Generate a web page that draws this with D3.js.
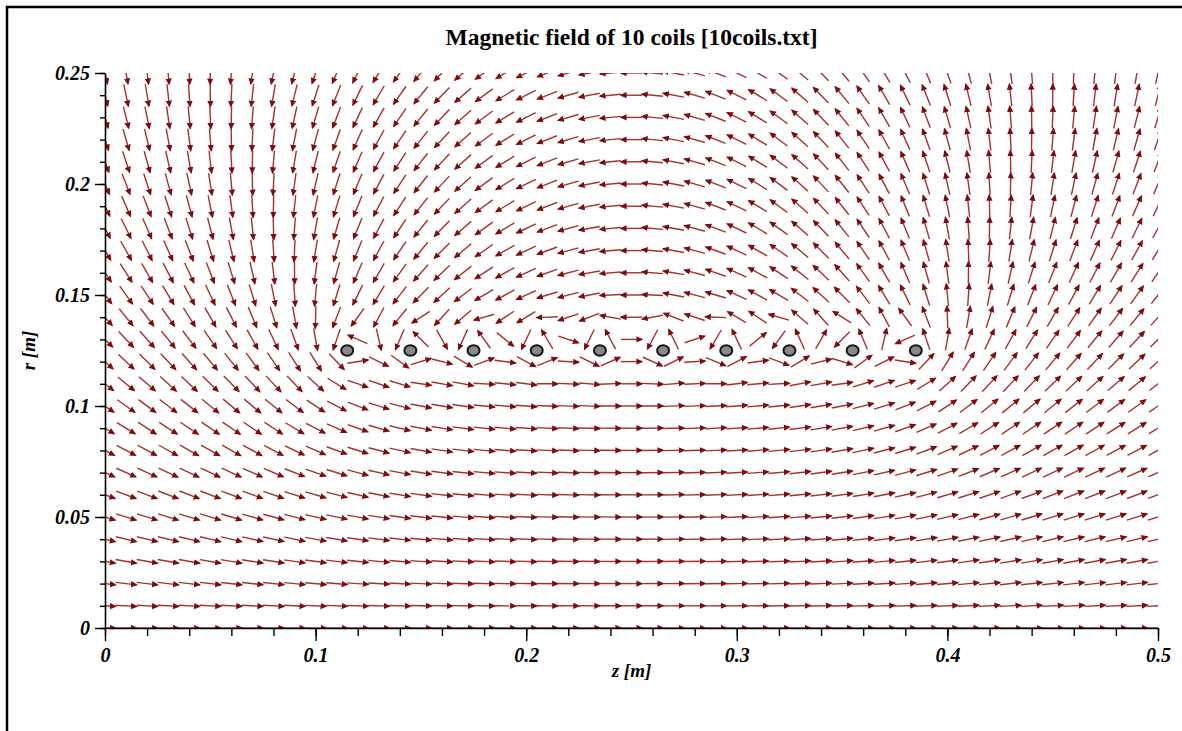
<!DOCTYPE html>
<html>
<head>
<meta charset="utf-8">
<script src="https://cdn.jsdelivr.net/npm/d3@7"></script>
<style>
    body { margin: 0; background: #fff; overflow: hidden; }
    svg { display: block; overflow: hidden; }
    .tick text { font-family: 'Liberation Serif', 'Times New Roman', serif; font-weight: bold; font-style: italic; }
</style>
</head>
<body>
<div id="field-chart"></div>
<script>
///////////// DATA
// coil centres along the axis (m)
var coilZ = [0.115, 0.145, 0.175, 0.205, 0.235, 0.265, 0.295, 0.325, 0.355, 0.385];
// coil radius (m)
var coilR = 0.125;
// sampling grid of the arrows
var zGrid = d3.range(0, 51).map(function(i) { return +(i * 0.01).toFixed(2); });
var rGrid = d3.range(0, 26).map(function(i) { return +(i * 0.01).toFixed(2); });
// axis ticks
var zTicks = [0, 0.1, 0.2, 0.3, 0.4, 0.5];
var zTickLabels = ['0', '0.1', '0.2', '0.3', '0.4', '0.5'];
var rTicks = [0, 0.05, 0.1, 0.15, 0.2, 0.25];
var rTickLabels = ['0', '0.05', '0.1', '0.15', '0.2', '0.25'];
var title = 'Magnetic field of 10 coils [10coils.txt]';


///////////// FIELD (current loop, Biot-Savart with elliptic integrals)
function ellipKE(m) {
    var a = 1, b = Math.sqrt(1 - m), c = Math.sqrt(m);
    var sum = 0.5 * c * c, p = 1;
    for (var i = 0; i < 40 && c > 1e-14; i++) {
        var an = (a + b) / 2, bn = Math.sqrt(a * b);
        c = (a - b) / 2;
        sum += p * c * c;
        p *= 2;
        a = an; b = bn;
    }
    var K = Math.PI / (2 * a);
    return [K, K * (1 - sum)];
}

function loopField(z, r, z0, a) {
    var dz = z - z0;
    var alpha2 = (a - r) * (a - r) + dz * dz;
    var beta2 = (a + r) * (a + r) + dz * dz;
    var beta = Math.sqrt(beta2);
    var m = 4 * a * r / beta2;
    var ke = ellipKE(m);
    var bz = ((a * a - r * r - dz * dz) / alpha2 * ke[1] + ke[0]) / beta;
    var br = r > 1e-9 ? dz / (r * beta) * ((a * a + r * r + dz * dz) / alpha2 * ke[1] - ke[0]) : 0;
    return [bz, br];
}

function field(z, r) {
    var bz = 0, br = 0;
    coilZ.forEach(function(z0) {
        var b = loopField(z, r, z0, coilR);
        bz += b[0];
        br += b[1];
    });
    return [bz, br];
}


///////////// CHART
function makeField() {
    var fullwidth = 1182;
    var fullheight = 731;
    var margin = { top: 73, right: 24, bottom: 103, left: 105 };
    var width = fullwidth - margin.left - margin.right;
    var height = fullheight - margin.top - margin.bottom;

    var svg = d3.select('#field-chart')
        .append('svg')
        .attr('width', fullwidth)
        .attr('height', fullheight);

    // frame, only its top and left edges fall inside the picture
    svg.append('path')
        .attr('d', 'M7,' + fullheight + 'V7H' + fullwidth)
        .attr('fill', 'none')
        .attr('stroke', '#000')
        .attr('stroke-width', 2.5);

    svg.append('defs').append('clipPath')
        .attr('id', 'plot-clip')
        .append('rect')
        .attr('width', width)
        .attr('height', height);

    svg.select('defs').append('marker')
        .attr('id', 'head')
        .attr('viewBox', '0 0 10 10')
        .attr('refX', 8)
        .attr('refY', 5)
        .attr('markerUnits', 'userSpaceOnUse')
        .attr('markerWidth', 7)
        .attr('markerHeight', 7)
        .attr('orient', 'auto')
        .append('path')
        .attr('d', 'M0,0.5 L10,5 L0,9.5 Z')
        .attr('fill', '#7d0c0c');

    var g = svg.append('g')
        .attr('transform', 'translate(' + margin.left + ',' + margin.top + ')');

    var x = d3.scaleLinear().domain([0, 0.5]).range([0, width]);
    var y = d3.scaleLinear().domain([0, 0.25]).range([height, 0]);

    // arrows
    var arrows = [];
    rGrid.forEach(function(r) {
        zGrid.forEach(function(z) {
            var b = field(z, r);
            var n = Math.sqrt(b[0] * b[0] + b[1] * b[1]) || 1;
            var h = 0.005;
            arrows.push({
                z1: z - h * b[0] / n, r1: r - h * b[1] / n,
                z2: z + h * b[0] / n, r2: r + h * b[1] / n
            });
        });
    });

    g.append('g')
        .attr('clip-path', 'url(#plot-clip)')
        .selectAll('line')
        .data(arrows)
        .enter()
        .append('line')
        .attr('x1', function(d) { return x(d.z1); })
        .attr('y1', function(d) { return y(d.r1); })
        .attr('x2', function(d) { return x(d.z2); })
        .attr('y2', function(d) { return y(d.r2); })
        .attr('stroke', '#a23232')
        .attr('stroke-width', 1.4)
        .attr('marker-end', 'url(#head)');

    // coils
    g.selectAll('ellipse.coil')
        .data(coilZ)
        .enter()
        .append('ellipse')
        .attr('class', 'coil')
        .attr('cx', function(d) { return x(d); })
        .attr('cy', y(coilR))
        .attr('rx', 6)
        .attr('ry', 5.2)
        .attr('fill', '#888')
        .attr('stroke', '#151515')
        .attr('stroke-width', 2);

    // minor ticks
    g.append('g')
        .attr('transform', 'translate(0,' + height + ')')
        .call(d3.axisBottom(x).tickValues(d3.range(0, 26).map(function(i) { return i * 0.02; })).tickSize(8).tickFormat(''))
        .call(function(a) { a.select('.domain').remove(); });
    g.append('g')
        .call(d3.axisLeft(y).tickValues(rGrid).tickSize(5).tickFormat(''))
        .call(function(a) { a.select('.domain').remove(); });

    // major axes
    var xAxis = g.append('g')
        .attr('transform', 'translate(0,' + height + ')')
        .call(d3.axisBottom(x)
            .tickValues(zTicks)
            .tickSize(13)
            .tickSizeOuter(0)
            .tickFormat(function(d, i) { return zTickLabels[i]; }));
    xAxis.selectAll('text').attr('font-size', 20).attr('dy', '0.71em').attr('y', 20);

    var yAxis = g.append('g')
        .call(d3.axisLeft(y)
            .tickValues(rTicks)
            .tickSize(10)
            .tickSizeOuter(0)
            .tickFormat(function(d, i) { return rTickLabels[i]; }));
    yAxis.selectAll('text').attr('font-size', 20).attr('x', -15);

    svg.selectAll('.domain').attr('stroke-width', 1.6);
    svg.selectAll('.tick line').attr('stroke-width', 1.4);

    // titles
    svg.append('text')
        .attr('x', margin.left + width / 2)
        .attr('y', 45)
        .attr('text-anchor', 'middle')
        .style('font-family', "'Liberation Serif', 'Times New Roman', serif")
        .style('font-weight', 'bold')
        .style('font-size', '23.5px')
        .text(title);

    svg.append('text')
        .attr('x', margin.left + width / 2)
        .attr('y', 677)
        .attr('text-anchor', 'middle')
        .style('font-family', "'Liberation Serif', 'Times New Roman', serif")
        .style('font-weight', 'bold')
        .style('font-style', 'italic')
        .style('font-size', '19px')
        .text('z [m]');

    svg.append('text')
        .attr('transform', 'translate(35,' + (margin.top + height / 2) + ') rotate(-90)')
        .attr('text-anchor', 'middle')
        .style('font-family', "'Liberation Serif', 'Times New Roman', serif")
        .style('font-weight', 'bold')
        .style('font-style', 'italic')
        .style('font-size', '19px')
        .text('r [m]');
}

makeField();
</script>
</body>
</html>
